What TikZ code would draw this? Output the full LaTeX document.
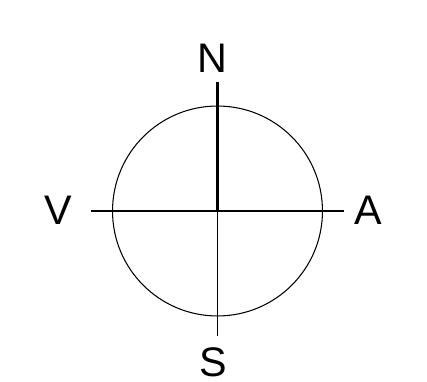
\documentclass[tikz,border=0pt]{standalone}
\usepackage{fontspec}
\setmainfont{Liberation Sans}
\usepackage{tikz}
\usetikzlibrary{positioning}

\begin{document}
\begin{tikzpicture}[x=0.02cm,y=-0.02cm,
  lbl/.style={font=\fontsize{23.5}{28}\selectfont,inner sep=0pt},
  thin line/.style={line width=0.6pt},
  thick line/.style={line width=1.7pt}]
\useasboundingbox (0,0) rectangle (427,382);
\coordinate (c) at (217.5,211);
\node[draw,circle,thin line,minimum size=4.2cm,inner sep=0pt] (rose) at (c) {};
\coordinate (nend) at (217.5,82);
\coordinate (send) at (217.5,336);
\coordinate (wend) at (91,211);
\coordinate (eend) at (344,211);
\node[lbl] (N) at (212,58) {N};
\node[lbl] (S) at (213,362) {S};
\node[lbl] (V) at (58,210) {V};
\node[lbl] (A) at (368,210) {A};
\draw[thick line] (c) -- (nend);
\draw[thin line] (c) -- (send);
\draw[thin line] (wend) -- (eend);
\end{tikzpicture}
\end{document}
